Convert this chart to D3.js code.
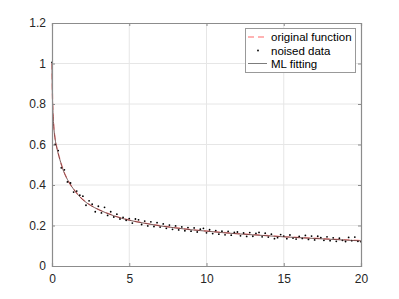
<!DOCTYPE html>
<html>
<head>
<meta charset="utf-8">
<script src="https://cdn.jsdelivr.net/npm/d3@7"></script>
<style>
  body { margin: 0; background: #fff; }
  svg text { font-family: "Liberation Sans", Arial, sans-serif; }
</style>
</head>
<body>
<div id="chart"></div>
<script>
// smooth curves
var curveX = [0, 0.02, 0.05, 0.1, 0.2, 0.3, 0.5, 0.75, 1, 1.5, 2, 2.5, 3, 4, 5, 6, 7, 8, 9, 10, 11, 12, 13, 14, 15, 16, 17, 18, 19, 20];
var origY  = [1.0, 0.88, 0.79, 0.71, 0.63, 0.59, 0.53, 0.47, 0.428, 0.37, 0.328, 0.3, 0.28, 0.249, 0.227, 0.212, 0.199, 0.189, 0.18, 0.173, 0.166, 0.16, 0.155, 0.15, 0.145, 0.141, 0.137, 0.133, 0.13, 0.126];
var fitY   = [1.0, 0.87, 0.785, 0.705, 0.628, 0.588, 0.528, 0.468, 0.427, 0.369, 0.327, 0.299, 0.279, 0.248, 0.226, 0.211, 0.198, 0.188, 0.179, 0.172, 0.165, 0.159, 0.154, 0.149, 0.144, 0.14, 0.136, 0.132, 0.128, 0.124];

// noised samples, x = 0, 0.2, ..., 20
var noisedY = [
  1.005, 0.60, 0.57, 0.485, 0.475, 0.415, 0.41, 0.365, 0.37, 0.35,
  0.345, 0.30, 0.322, 0.305, 0.268, 0.295, 0.262, 0.29, 0.25, 0.268,
  0.242, 0.256, 0.232, 0.24, 0.226, 0.234, 0.212, 0.232, 0.228, 0.205,
  0.222, 0.198, 0.218, 0.195, 0.214, 0.192, 0.208, 0.186, 0.202, 0.181,
  0.198, 0.178, 0.193, 0.174, 0.19, 0.172, 0.188, 0.168, 0.182, 0.186,
  0.164, 0.179, 0.16, 0.175, 0.157, 0.172, 0.154, 0.171, 0.152, 0.166,
  0.168, 0.149, 0.163, 0.146, 0.165, 0.147, 0.161, 0.166, 0.144, 0.162,
  0.143, 0.157, 0.135, 0.14, 0.155, 0.148, 0.135, 0.153, 0.138, 0.133,
  0.146, 0.136, 0.151, 0.131, 0.148, 0.129, 0.147, 0.14, 0.127, 0.144,
  0.125, 0.139, 0.122, 0.137, 0.127, 0.121, 0.141, 0.125, 0.143, 0.122,
  0.12
];
var noisedStep = 0.2;

var xTicks = [0, 5, 10, 15, 20];
var yTicks = [0, 0.2, 0.4, 0.6, 0.8, 1, 1.2];
var legendLabels = ["original function", "noised data", "ML fitting"];

var W = 399, H = 299;
var plotL = 52, plotR = 361, plotT = 23, plotB = 266;

var svg = d3.select("#chart").append("svg")
  .attr("width", W).attr("height", H);

var x = d3.scaleLinear().domain([0, 20]).range([plotL, plotR]);
var y = d3.scaleLinear().domain([0, 1.2]).range([plotB, plotT]);

// grid
svg.append("g").selectAll("line").data(xTicks.slice(1, -1)).enter().append("line")
  .attr("x1", function(d) { return x(d); }).attr("x2", function(d) { return x(d); })
  .attr("y1", plotT).attr("y2", plotB)
  .attr("stroke", "#e6e6e6").attr("stroke-width", 1);
svg.append("g").selectAll("line").data(yTicks.slice(1, -1)).enter().append("line")
  .attr("y1", function(d) { return y(d); }).attr("y2", function(d) { return y(d); })
  .attr("x1", plotL).attr("x2", plotR)
  .attr("stroke", "#e6e6e6").attr("stroke-width", 1);

// curves
var line = d3.line()
  .x(function(d) { return x(d[0]); })
  .y(function(d) { return y(d[1]); })
  .curve(d3.curveMonotoneX);

svg.append("path")
  .datum(curveX.map(function(v, i) { return [v, origY[i]]; }))
  .attr("d", line)
  .attr("fill", "none").attr("stroke", "#ff9a9a").attr("stroke-width", 1.4)
  .attr("stroke-dasharray", "6,4");

svg.append("g").selectAll("circle")
  .data(noisedY).enter().append("circle")
  .attr("cx", function(d, i) { return x(i * noisedStep); })
  .attr("cy", function(d) { return y(d); })
  .attr("r", 0.9)
  .attr("fill", "#000");

svg.append("path")
  .datum(curveX.map(function(v, i) { return [v, fitY[i]]; }))
  .attr("d", line)
  .attr("fill", "none").attr("stroke", "#5a3030").attr("stroke-width", 0.8);

// axes (box with inward ticks)
var axisColor = "#8c8c8c";
var xAxis = d3.axisBottom(x).tickValues(xTicks).tickSize(-3).tickPadding(8).tickFormat(d3.format("d"));
var yAxis = d3.axisLeft(y).tickValues(yTicks).tickSize(-3).tickPadding(6).tickFormat(function(d) { return d3.format("~g")(d); });

var gx = svg.append("g").attr("transform", "translate(0," + plotB + ")").call(xAxis);
var gy = svg.append("g").attr("transform", "translate(" + plotL + ",0)").call(yAxis);
var gxt = svg.append("g").attr("transform", "translate(0," + plotT + ")")
  .call(d3.axisTop(x).tickValues(xTicks).tickSize(-3).tickFormat(""));
var gyr = svg.append("g").attr("transform", "translate(" + plotR + ",0)")
  .call(d3.axisRight(y).tickValues(yTicks).tickSize(-3).tickFormat(""));

[gx, gy, gxt, gyr].forEach(function(g) {
  g.select(".domain").attr("stroke", axisColor).attr("stroke-width", 1.2);
  g.selectAll(".tick line").attr("stroke", axisColor);
  g.selectAll(".tick text").attr("fill", "#262626").style("font-size", "12px");
});

// legend
var lg = svg.append("g");
lg.append("rect")
  .attr("x", 245.5).attr("y", 28.5).attr("width", 110).attr("height", 44)
  .attr("fill", "#fff").attr("stroke", "#999").attr("stroke-width", 1);
var rowY = [37, 50.5, 63.5];
lg.append("line").attr("x1", 248).attr("x2", 267).attr("y1", rowY[0]).attr("y2", rowY[0])
  .attr("stroke", "#ff9a9a").attr("stroke-width", 1.4).attr("stroke-dasharray", "6,4");
lg.append("circle").attr("cx", 258).attr("cy", rowY[1]).attr("r", 0.9).attr("fill", "#000");
lg.append("line").attr("x1", 248).attr("x2", 267).attr("y1", rowY[2]).attr("y2", rowY[2])
  .attr("stroke", "#5a5a5a").attr("stroke-width", 0.8);
lg.selectAll("text.lab").data(legendLabels).enter().append("text")
  .attr("class", "lab")
  .attr("x", 271).attr("y", function(d, i) { return rowY[i] + 4; })
  .attr("fill", "#000").style("font-size", "11.5px")
  .text(function(d) { return d; });
</script>
</body>
</html>
